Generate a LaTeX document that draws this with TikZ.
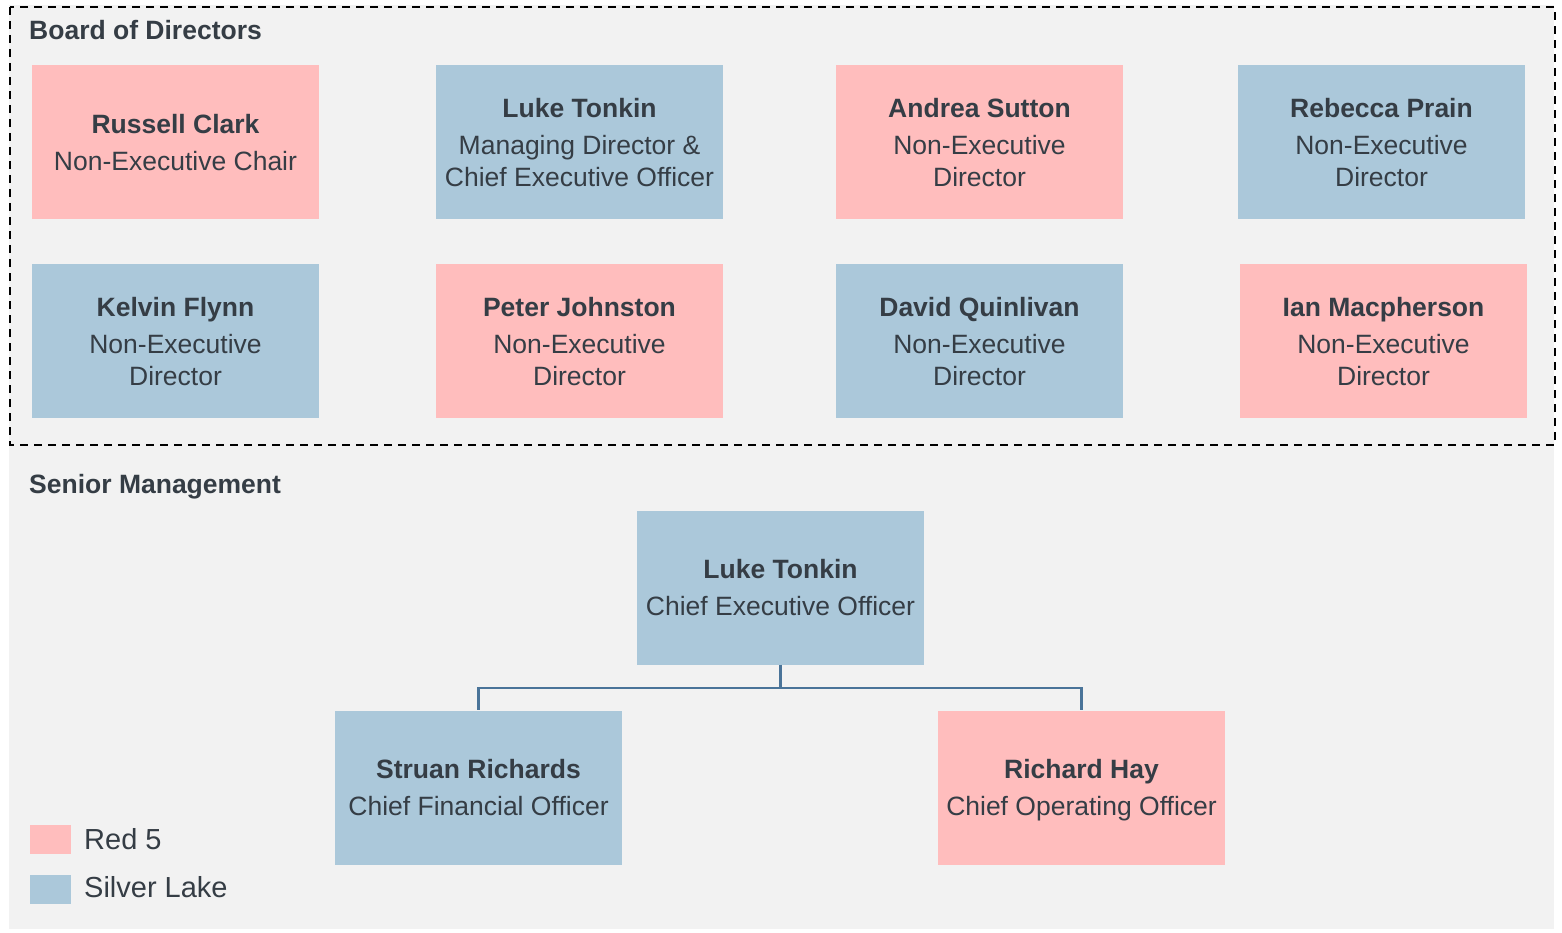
\documentclass[tikz,border=0pt]{standalone}
\usepackage{fontspec}
\setmainfont{Liberation Sans}
\usepackage{tikz}
\usetikzlibrary{positioning}

\definecolor{redfive}{HTML}{FFBDBD}
\definecolor{silverlake}{HTML}{ABC8DA}
\definecolor{txtgray}{HTML}{353D45}
\definecolor{bggray}{HTML}{F2F2F2}
\definecolor{linkblue}{HTML}{4A7499}

\tikzset{
	person/.style={minimum width=287pt, minimum height=154pt, inner sep=0pt,
		align=center, text=txtgray, text depth=0pt,
		execute at begin node={\rule{0pt}{25pt}},
		font=\fontsize{26.5}{32}\selectfont},
	rf/.style={person, fill=redfive},
	sl/.style={person, fill=silverlake},
	heading/.style={anchor=base west, inner sep=0pt, text=txtgray,
		font=\fontsize{26.5}{32}\selectfont\bfseries},
	legendbox/.style={minimum width=41pt, minimum height=29pt, inner sep=0pt},
	legendtext/.style={anchor=west, inner sep=0pt, text=txtgray,
		font=\fontsize{29}{34}\selectfont},
	link/.style={draw=linkblue, line width=2.5pt}
}

\begin{document}
\begin{tikzpicture}[x=1pt,y=-1pt]
	\useasboundingbox (0,0) rectangle (1562,933);
	\fill[bggray] (9,5) rectangle (1554,929);
	\draw[dashed, line width=2pt, dash pattern=on 8pt off 6pt] (10,7) rectangle (1555,445);

	% board
	\node[heading] (board) at (29,40) {Board of Directors};
	\node[rf] (clark) at (175.5,142) {\textbf{Russell Clark}\\[5pt]Non-Executive Chair};
	\node[sl] (tonkinbd) at (579.5,142) {\textbf{Luke Tonkin}\\[5pt]Managing Director \&\\Chief Executive Officer};
	\node[rf] (sutton) at (979.5,142) {\textbf{Andrea Sutton}\\[5pt]Non-Executive\\Director};
	\node[sl] (prain) at (1381.5,142) {\textbf{Rebecca Prain}\\[5pt]Non-Executive\\Director};
	\node[sl] (flynn) at (175.5,341) {\textbf{Kelvin Flynn}\\[5pt]Non-Executive\\Director};
	\node[rf] (johnston) at (579.5,341) {\textbf{Peter Johnston}\\[5pt]Non-Executive\\Director};
	\node[sl] (quinlivan) at (979.5,341) {\textbf{David Quinlivan}\\[5pt]Non-Executive\\Director};
	\node[rf] (macpherson) at (1383.5,341) {\textbf{Ian Macpherson}\\[5pt]Non-Executive\\Director};

	% management
	\node[heading] (senior) at (29,493) {Senior Management};
	\node[sl] (ceo) at (780.5,587.5) {\textbf{Luke Tonkin}\\[5pt]Chief Executive Officer};
	\node[sl] (cfo) at (478.5,787.5) {\textbf{Struan Richards}\\[5pt]Chief Financial Officer};
	\node[rf] (coo) at (1081.5,787.5) {\textbf{Richard Hay}\\[5pt]Chief Operating Officer};
	\coordinate (split) at (780.5,688);
	\draw[link] (ceo.south) -- (split);
	\draw[link] (split) -| (cfo.north);
	\draw[link] (split) -| (coo.north);

	% legend
	\node[legendbox, fill=redfive] (legrf) at (50.5,839.5) {};
	\node[legendbox, fill=silverlake] (legsl) at (50.5,889.5) {};
	\node[legendtext] at (84,839.5) {Red 5};
	\node[legendtext] at (84,887) {Silver Lake};
\end{tikzpicture}
\end{document}
